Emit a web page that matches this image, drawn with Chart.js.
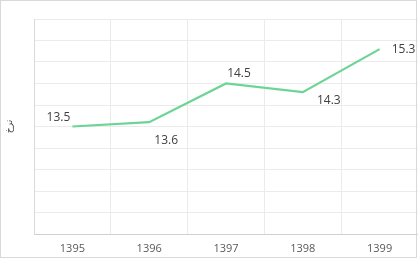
<!DOCTYPE html>
<html>
<head>
<meta charset="utf-8">
<script src="https://cdn.jsdelivr.net/npm/chart.js@4"></script>
<style>
  html, body { margin: 0; padding: 0; background: #fff; }
  #wrap { width: 418px; height: 259px; }
</style>
</head>
<body>
<div id="wrap"><canvas id="chart"></canvas></div>
<script>
// Chart data
const years = ['1395', '1396', '1397', '1398', '1399'];
const rates = [13.5, 13.6, 14.5, 14.3, 15.3];
const yTitle = 'نرخ';

// label offsets from each point (px)
const labelOffsets = [[-14, -9], [17, 18], [13, -10], [26, 8], [24, 0]];

// outer frame
const framePlugin = {
  id: 'frame',
  afterDraw(chart) {
    const ctx = chart.ctx;
    ctx.save();
    ctx.strokeStyle = '#d9d9d9';
    ctx.lineWidth = 1;
    ctx.strokeRect(0.5, 0.5, 416, 257);
    ctx.restore();
  }
};

// value labels next to points
const valueLabels = {
  id: 'valueLabels',
  afterDatasetsDraw(chart) {
    const ctx = chart.ctx;
    const meta = chart.getDatasetMeta(0);
    ctx.save();
    ctx.font = '12px "Open Sans", "DejaVu Sans", sans-serif';
    ctx.fillStyle = '#404040';
    ctx.textAlign = 'center';
    ctx.textBaseline = 'middle';
    meta.data.forEach((pt, i) => {
      const off = labelOffsets[i];
      ctx.fillText(rates[i].toFixed(1), pt.x + off[0], pt.y + off[1]);
    });
    ctx.restore();
  }
};

new Chart(document.getElementById('chart'), {
  type: 'line',
  data: {
    labels: years,
    datasets: [{
      data: rates,
      borderColor: '#6cd494',
      borderWidth: 2.2,
      pointRadius: 0,
      tension: 0,
      fill: false
    }]
  },
  options: {
    responsive: true,
    maintainAspectRatio: false,
    animation: false,
    layout: { padding: { top: 19, right: 0, left: 0, bottom: 0 } },
    plugins: {
      legend: { display: false },
      tooltip: { enabled: false }
    },
    scales: {
      x: {
        offset: true,
        grid: { color: '#ebebeb', offset: true, drawTicks: false },
        border: { color: '#d0d0d0' },
        ticks: {
          color: '#595959',
          font: { family: '"Open Sans", "DejaVu Sans", sans-serif', size: 11 },
          padding: 8
        },
        afterFit(scale) { scale.height = 25; }
      },
      y: {
        min: 11,
        max: 16,
        ticks: { display: false, stepSize: 0.5 },
        grid: { color: '#ebebeb', drawTicks: false },
        border: { color: '#d9d9d9' },
        title: {
          display: true,
          text: yTitle,
          color: '#404040',
          font: { family: '"DejaVu Sans", sans-serif', size: 9 },
          padding: { top: 4, bottom: 0 }
        },
        afterFit(scale) { scale.width = 34; }
      }
    }
  },
  plugins: [framePlugin, valueLabels]
});
</script>
</body>
</html>
